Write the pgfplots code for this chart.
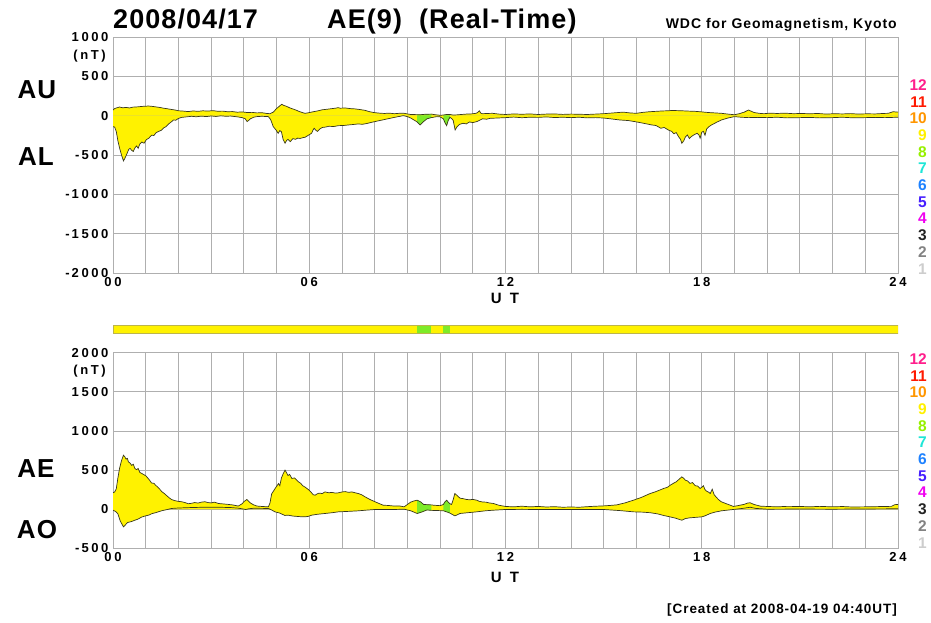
\documentclass[border=0pt]{standalone}
\usepackage{pgfplots}
\pgfplotsset{compat=1.18}
\usepackage{pgfplotstable}
\usepackage{fontspec}
\setmainfont{Liberation Sans}
\newfontfamily\lblfont[LetterSpace=20]{Liberation Sans}
\newfontfamily\ttlfont[LetterSpace=4]{Liberation Sans}
\newfontfamily\wdcfont[LetterSpace=7]{Liberation Sans}

\definecolor{aeyel}{RGB}{255,242,0}
\definecolor{aegrn}{RGB}{125,235,40}
\definecolor{aeline}{RGB}{55,55,30}
\definecolor{gridc}{RGB}{175,175,175}
\definecolor{c12}{RGB}{255,30,140}
\definecolor{c11}{RGB}{255,25,0}
\definecolor{c10}{RGB}{255,150,0}
\definecolor{c9}{RGB}{255,240,0}
\definecolor{c8}{RGB}{150,240,0}
\definecolor{c7}{RGB}{30,230,215}
\definecolor{c6}{RGB}{30,130,255}
\definecolor{c5}{RGB}{70,30,255}
\definecolor{c4}{RGB}{240,0,240}
\definecolor{c3}{RGB}{35,35,35}
\definecolor{c2}{RGB}{130,130,130}
\definecolor{c1}{RGB}{205,205,205}

% AU (nT)
\pgfplotstableread{
t v
0.00 70
0.05 90
0.12 100
0.20 110
0.30 100
0.40 105
0.50 98
0.60 108
0.75 112
0.90 118
1.00 120
1.08 123
1.20 118
1.30 112
1.42 105
1.55 95
1.70 85
1.80 78
1.90 72
2.00 62
2.15 58
2.30 52
2.45 60
2.60 55
2.75 62
2.90 58
3.05 64
3.20 56
3.35 58
3.50 50
3.65 52
3.80 44
3.95 48
4.10 40
4.25 42
4.40 35
4.55 38
4.70 28
4.80 25
4.90 45
5.00 90
5.10 125
5.16 145
5.22 130
5.30 120
5.40 100
5.50 85
5.60 70
5.70 52
5.80 38
5.87 30
5.95 35
6.10 48
6.25 60
6.40 75
6.55 82
6.70 90
6.80 95
6.88 102
6.95 95
7.10 98
7.25 90
7.40 86
7.55 78
7.70 68
7.85 50
8.00 38
8.15 32
8.30 28
8.45 32
8.60 25
8.75 30
8.90 30
9.00 22
9.10 15
9.30 13
9.40 12
9.55 18
9.73 20
9.85 12
10.00 5
10.10 8
10.20 15
10.30 15
10.40 8
10.50 10
10.65 15
10.80 20
10.95 22
11.10 30
11.15 40
11.20 62
11.25 30
11.30 25
11.45 28
11.60 30
11.80 20
12.00 15
12.25 22
12.50 18
12.75 22
13.00 15
13.25 20
13.50 22
13.75 16
14.00 20
14.25 18
14.50 15
14.75 20
15.00 25
15.15 30
15.30 35
15.45 40
15.60 45
15.80 35
16.00 30
16.20 42
16.40 50
16.60 55
16.80 60
16.95 62
17.10 66
17.25 64
17.40 62
17.60 58
17.80 55
18.00 48
18.20 40
18.40 35
18.60 30
18.80 20
19.00 12
19.15 25
19.30 45
19.43 72
19.52 55
19.60 40
19.75 30
19.90 25
20.10 32
20.30 28
20.55 32
20.80 25
21.05 28
21.30 24
21.55 28
21.80 20
22.05 25
22.30 22
22.55 26
22.80 20
23.05 24
23.30 22
23.55 28
23.70 30
23.85 50
24.00 45
}\tabAU

% AL (nT)
\pgfplotstableread{
t v
0.00 -140
0.05 -145
0.10 -200
0.15 -320
0.20 -410
0.26 -500
0.32 -575
0.36 -545
0.42 -490
0.48 -430
0.52 -415
0.57 -440
0.62 -455
0.67 -410
0.72 -385
0.77 -415
0.82 -360
0.88 -335
0.95 -350
1.02 -305
1.10 -285
1.18 -248
1.25 -252
1.32 -215
1.40 -200
1.48 -185
1.55 -155
1.62 -140
1.70 -105
1.78 -80
1.85 -55
1.92 -58
2.00 -35
2.10 -22
2.25 -15
2.40 -8
2.55 -14
2.70 -6
2.85 -12
3.00 -4
3.15 -10
3.30 -2
3.45 -8
3.60 -5
3.80 -15
3.95 -25
4.04 -38
4.10 -75
4.15 -60
4.20 -40
4.30 -20
4.40 -12
4.55 -8
4.75 -12
4.82 -50
4.90 -140
4.98 -180
5.05 -224
5.10 -190
5.15 -205
5.20 -300
5.26 -351
5.30 -320
5.35 -300
5.42 -330
5.50 -292
5.58 -300
5.65 -285
5.72 -290
5.80 -280
5.87 -275
5.95 -255
6.07 -224
6.12 -180
6.15 -160
6.20 -185
6.25 -200
6.32 -170
6.40 -150
6.50 -145
6.60 -135
6.75 -138
6.89 -127
7.05 -125
7.20 -118
7.35 -112
7.50 -105
7.62 -110
7.76 -100
7.90 -85
8.00 -76
8.20 -58
8.40 -40
8.60 -22
8.75 -10
8.88 0
9.00 -12
9.10 -30
9.20 -55
9.30 -80
9.39 -118
9.48 -80
9.60 -40
9.73 -25
9.90 -12
10.00 -15
10.10 -40
10.15 -90
10.20 -127
10.25 -60
10.30 -20
10.36 -40
10.40 -60
10.46 -182
10.52 -140
10.60 -110
10.70 -97
10.80 -105
10.90 -80
11.00 -88
11.12 -76
11.20 -60
11.30 -40
11.42 -45
11.53 -34
11.75 -30
12.00 -25
12.25 -18
12.50 -26
12.75 -20
13.00 -22
13.25 -16
13.50 -24
13.75 -20
14.00 -25
14.25 -20
14.50 -28
14.75 -25
15.00 -30
15.25 -42
15.50 -55
15.75 -62
15.96 -76
16.20 -95
16.47 -118
16.60 -125
16.75 -160
16.85 -150
16.98 -182
17.08 -200
17.15 -230
17.22 -215
17.29 -267
17.35 -300
17.39 -351
17.45 -320
17.50 -270
17.56 -245
17.62 -290
17.70 -260
17.78 -240
17.86 -224
17.92 -250
17.95 -287
18.00 -210
18.05 -200
18.10 -250
18.15 -170
18.22 -140
18.30 -118
18.45 -85
18.60 -55
18.80 -30
19.00 -12
19.20 -20
19.43 -25
19.70 -22
20.00 -25
20.30 -20
20.60 -28
21.00 -25
21.30 -22
21.60 -28
22.00 -25
22.30 -20
22.60 -27
23.00 -25
23.30 -22
23.60 -25
24.00 -20
}\tabAL

% AE (nT)
\pgfplotstableread{
t v
0.00 210
0.05 220
0.10 260
0.15 400
0.20 520
0.26 620
0.32 690
0.36 670
0.40 640
0.44 650
0.47 605
0.52 590
0.57 560
0.62 575
0.67 520
0.72 505
0.77 520
0.82 470
0.88 456
0.95 440
1.02 420
1.10 380
1.18 335
1.25 330
1.32 300
1.40 270
1.49 225
1.57 200
1.65 170
1.72 145
1.79 124
1.88 110
2.00 100
2.10 95
2.20 85
2.30 70
2.40 75
2.50 85
2.60 78
2.70 90
2.81 95
2.90 85
3.00 80
3.10 90
3.22 73
3.35 68
3.50 62
3.65 55
3.83 40
3.95 70
4.00 95
4.09 124
4.15 100
4.20 80
4.30 55
4.40 40
4.55 35
4.75 30
4.80 80
4.85 195
4.95 260
5.06 328
5.10 300
5.15 400
5.20 450
5.26 499
5.30 470
5.35 430
5.40 445
5.47 392
5.55 400
5.62 370
5.67 350
5.74 330
5.80 300
5.88 280
5.97 252
6.05 220
6.12 185
6.18 179
6.24 195
6.30 205
6.40 200
6.48 221
6.60 210
6.70 215
6.80 205
6.89 209
7.00 220
7.10 225
7.20 215
7.30 221
7.40 210
7.50 200
7.60 185
7.71 157
7.85 125
8.01 95
8.15 70
8.26 51
8.40 48
8.60 40
8.75 42
8.90 30
9.00 60
9.10 90
9.20 105
9.30 115
9.40 95
9.50 60
9.60 58
9.73 55
9.80 51
9.90 48
10.00 45
10.10 60
10.15 95
10.20 115
10.25 90
10.30 70
10.35 60
10.40 120
10.45 200
10.52 175
10.61 140
10.70 135
10.80 125
10.90 120
11.00 125
11.12 115
11.20 100
11.30 92
11.40 90
11.50 80
11.63 73
11.80 50
12.00 35
12.25 30
12.50 38
12.75 30
13.00 35
13.25 28
13.50 32
13.75 25
14.00 28
14.25 25
14.50 32
14.75 38
15.00 42
15.20 48
15.40 55
15.65 80
15.91 115
16.15 150
16.42 200
16.60 225
16.75 250
16.83 264
16.95 280
17.05 310
17.13 330
17.22 350
17.30 380
17.39 413
17.45 395
17.50 370
17.57 360
17.64 330
17.72 340
17.80 300
17.88 295
17.95 265
18.00 280
18.05 300
18.10 250
18.15 230
18.22 215
18.26 200
18.32 255
18.38 185
18.45 150
18.52 120
18.60 94
18.75 70
18.97 35
19.10 45
19.30 62
19.40 78
19.48 82
19.60 60
19.80 38
20.00 35
20.30 30
20.60 36
21.00 35
21.30 30
21.60 36
22.00 30
22.30 34
22.60 28
23.00 30
23.30 32
23.60 35
23.80 36
23.90 58
24.00 60
}\tabAE

% AO (nT)
\pgfplotstableread{
t v
0.00 -13
0.08 -30
0.15 -60
0.22 -150
0.32 -226
0.38 -200
0.45 -170
0.55 -160
0.67 -141
0.75 -130
0.88 -100
1.00 -85
1.10 -75
1.18 -58
1.30 -45
1.49 -20
1.65 -5
1.79 9
2.00 15
2.40 21
2.70 24
3.00 25
3.30 24
3.60 21
3.85 12
4.06 -4
4.15 5
4.30 12
4.75 9
4.85 -10
4.95 -34
5.10 -50
5.25 -80
5.36 -77
5.50 -88
5.70 -95
5.87 -98
5.97 -92
6.07 -77
6.25 -65
6.48 -55
6.70 -45
6.89 -34
7.20 -28
7.50 -21
7.75 -12
8.01 -4
8.50 -5
8.90 0
9.10 -20
9.30 -55
9.45 -35
9.60 -10
9.73 -15
10.10 -20
10.20 -34
10.30 -50
10.45 -85
10.50 -77
10.61 -55
10.85 -45
11.12 -34
11.40 -20
11.63 -13
12.00 -4
12.50 -2
13.00 -4
13.50 -3
14.00 -5
14.50 -3
15.00 -4
15.50 -18
15.91 -34
16.20 -38
16.42 -45
16.65 -60
16.83 -80
17.05 -100
17.20 -115
17.39 -141
17.50 -120
17.64 -110
17.80 -105
18.00 -98
18.10 -85
18.26 -55
18.40 -38
18.60 -21
19.00 -2
19.25 10
19.48 25
19.65 10
20.00 0
21.00 2
22.00 0
23.00 3
24.00 5
}\tabAO

\pgfplotsset{
  aeaxis/.style={
    scale only axis, width=785pt,
    xmin=0, xmax=24,
    xtick={0,...,24},
    xticklabels={00,,,,,,06,,,,,,12,,,,,,18,,,,,,24},
    grid=major,
    grid style={color=gridc, line width=0.8pt},
    axis line style={color=gridc, line width=0.8pt},
    major tick length=0pt,
    tick label style={font=\lblfont\bfseries\fontsize{13}{13}\selectfont, text=black},
    yticklabel style={xshift=-1pt},
    xticklabel style={yshift=-1pt},
  },
  curve/.style={color=aeline, line width=0.7pt},
  band/.style={draw=none, fill=aeyel},
  bandg/.style={draw=none, fill=aegrn},
}
\newcommand{\mn}{-\hspace{2pt}}

\begin{document}
\begin{tikzpicture}
\path[use as bounding box] (0,0) rectangle (931pt,622pt);

% ---- AU / AL ----
\begin{axis}[aeaxis,
  height=236pt, at={(113pt,349pt)}, anchor=south west,
  ymin=-2000, ymax=1000,
  ytick={-2000,-1500,-1000,-500,0,500,1000},
  yticklabels={\mn2000,\mn1500,\mn1000,\mn500,0,500,1000},
]
\addplot[band] table[x=t,y=v]{\tabAU} \closedcycle;
\addplot[band] table[x=t,y=v]{\tabAL} \closedcycle;
\addplot[bandg, restrict x to domain=9.3:9.73] table[x=t,y=v]{\tabAU} \closedcycle;
\addplot[bandg, restrict x to domain=9.3:9.73] table[x=t,y=v]{\tabAL} \closedcycle;
\addplot[bandg, restrict x to domain=10.09:10.3] table[x=t,y=v]{\tabAU} \closedcycle;
\addplot[bandg, restrict x to domain=10.09:10.3] table[x=t,y=v]{\tabAL} \closedcycle;
\addplot[curve] table[x=t,y=v]{\tabAU};
\addplot[curve] table[x=t,y=v]{\tabAL};
\end{axis}

% ---- station strip ----
\begin{axis}[scale only axis, width=785pt, height=8pt,
  at={(113pt,289pt)}, anchor=south west,
  xmin=0, xmax=24, ymin=0, ymax=1, axis lines=none]
\addplot[draw=none, fill=aeyel] coordinates {(0,1) (24,1)} \closedcycle;
\addplot[draw=none, fill=aegrn] coordinates {(9.3,1) (9.73,1)} \closedcycle;
\addplot[draw=none, fill=aegrn] coordinates {(10.09,1) (10.3,1)} \closedcycle;
\addplot[draw=olive!60, line width=0.6pt] coordinates {(0,0) (24,0) (24,1) (0,1) (0,0)};
\end{axis}

% ---- AE / AO ----
\begin{axis}[aeaxis,
  height=195.6pt, at={(113pt,73.7pt)}, anchor=south west,
  ymin=-500, ymax=2000,
  ytick={-500,0,500,1000,1500,2000},
  yticklabels={\mn500,0,500,1000,1500,2000},
]
\addplot[band] table[x=t,y=v]{\tabAE} \closedcycle;
\addplot[band] table[x=t,y=v]{\tabAO} \closedcycle;
\addplot[bandg, restrict x to domain=9.3:9.73] table[x=t,y=v]{\tabAE} \closedcycle;
\addplot[bandg, restrict x to domain=9.3:9.73] table[x=t,y=v]{\tabAO} \closedcycle;
\addplot[bandg, restrict x to domain=10.09:10.3] table[x=t,y=v]{\tabAE} \closedcycle;
\addplot[bandg, restrict x to domain=10.09:10.3] table[x=t,y=v]{\tabAO} \closedcycle;
\addplot[curve] table[x=t,y=v]{\tabAE};
\addplot[curve] table[x=t,y=v]{\tabAO};
\end{axis}

% ---- texts ----
\node[anchor=base west, font=\ttlfont\bfseries\fontsize{27}{27}\selectfont, inner sep=0] at (113pt,593pt) {2008/04/17};
\node[anchor=base west, font=\ttlfont\bfseries\fontsize{27}{27}\selectfont, inner sep=0] at (327pt,593pt) {AE(9)\ \ (Real-Time)};
\node[anchor=base east, font=\wdcfont\bfseries\fontsize{14}{14}\selectfont, inner sep=0] at (897pt,593pt) {WDC for Geomagnetism, Kyoto};

\node[font=\lblfont\bfseries\fontsize{13}{13}\selectfont, anchor=east, inner sep=0] at (106pt,566pt) {(nT)};
\node[font=\lblfont\bfseries\fontsize{13}{13}\selectfont, anchor=east, inner sep=0] at (106pt,251pt) {(nT)};

\node[font=\ttlfont\bfseries\fontsize{26}{26}\selectfont, inner sep=0] at (37pt,532pt) {AU};
\node[font=\ttlfont\bfseries\fontsize{26}{26}\selectfont, inner sep=0] at (36pt,465pt) {AL};
\node[font=\ttlfont\bfseries\fontsize{26}{26}\selectfont, inner sep=0] at (36pt,153pt) {AE};
\node[font=\ttlfont\bfseries\fontsize{26}{26}\selectfont, inner sep=0] at (37pt,92pt) {AO};

\node[font=\bfseries\fontsize{15}{15}\selectfont, inner sep=0] at (505pt,324pt) {U\ \ T};
\node[font=\bfseries\fontsize{15}{15}\selectfont, inner sep=0] at (505pt,45pt) {U\ \ T};

\node[anchor=base east, font=\wdcfont\bfseries\fontsize{13.5}{14}\selectfont, inner sep=0] at (897pt,9pt) {[Created at 2008-04-19 04:40UT]};

\foreach \n/\c [count=\i from 0] in {12/c12,11/c11,10/c10,9/c9,8/c8,7/c7,6/c6,5/c5,4/c4,3/c3,2/c2,1/c1}{
  \node[anchor=east, inner sep=0, text=\c, font=\bfseries\fontsize{15.5}{15.5}\selectfont] at ({927pt},{537pt-16.7pt*\i}) {\n};
  \node[anchor=east, inner sep=0, text=\c, font=\bfseries\fontsize{15.5}{15.5}\selectfont] at ({927pt},{263pt-16.7pt*\i}) {\n};
}
\end{tikzpicture}
\end{document}
